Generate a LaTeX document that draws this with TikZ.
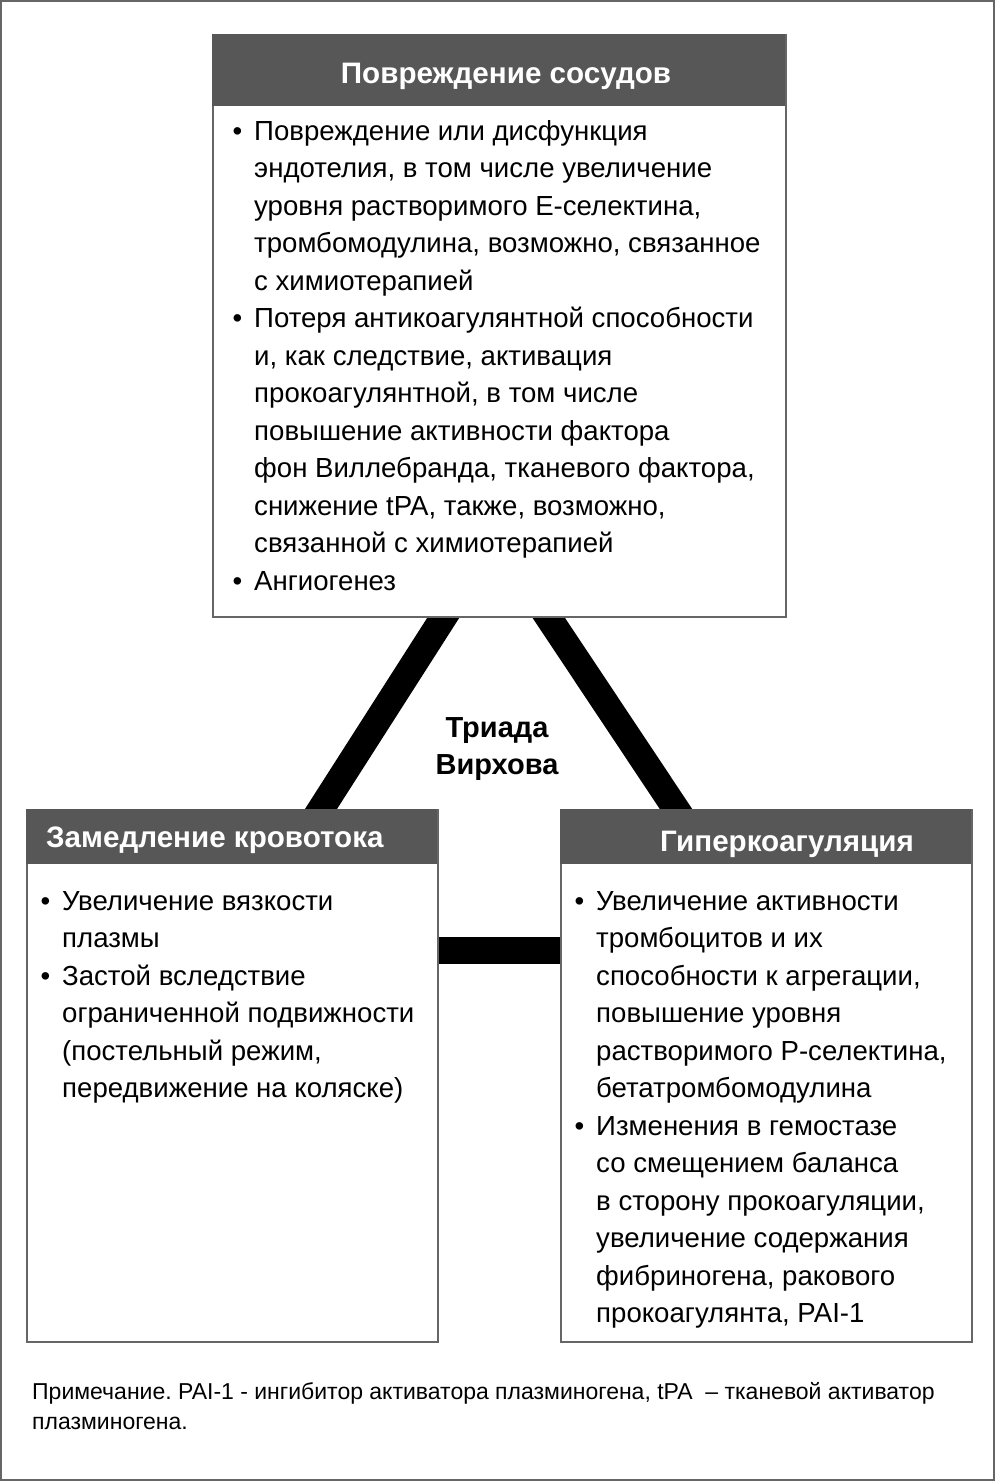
\documentclass[tikz,border=0pt]{standalone}
\usepackage{fontspec}
\setmainfont{Liberation Sans}
\usetikzlibrary{positioning, backgrounds}
\definecolor{headgray}{HTML}{575757}
\definecolor{linegray}{HTML}{666666}
\newcommand{\bul}{\llap{\textbullet\hspace{12pt}}}
\frenchspacing
\tikzset{x = 1pt, y = -1pt,
         box/.style = {draw = linegray, line width = 2.2pt, fill = white,
                       anchor = north west, inner sep = 0pt},
         head/.style = {fill = headgray, anchor = north west, inner sep = 0pt},
         headtext/.style = {text = white, font = \bfseries\fontsize{29.6pt}{32pt}\selectfont,
                            inner sep = 0pt},
         bodytext/.style = {align = left, anchor = north west, inner sep = 0pt,
                            font = \fontsize{27.6pt}{37.5pt}\selectfont},
         triad/.style = {line width = 27pt, black,
                         shorten <= -20pt, shorten >= -20pt}}

\begin{document}
\begin{tikzpicture}
  \useasboundingbox (0,0) rectangle (995,1481);
  \draw[linegray, line width = 2pt] (1,1) rectangle (994,1480);

  % three boxes
  \node[box, minimum width = 573pt, minimum height = 582pt] (vessel) at (212,34) {};
  \node[box, minimum width = 411pt, minimum height = 532pt] (stasis) at (26,809) {};
  \node[box, minimum width = 411pt, minimum height = 532pt] (hyper)  at (560,809) {};

  % connectors of the triad
  \begin{scope}[on background layer]
    \draw[triad] ([xshift = 231pt]vessel.south west)
              -- ([xshift = 295pt]stasis.north west);
    \draw[triad] ([xshift = 337pt]vessel.south west)
              -- ([xshift = 116pt]hyper.north west);
    \draw[triad] ([yshift = -141pt]stasis.north east)
              -- ([yshift = -141pt]hyper.north west);
  \end{scope}

  % headers
  \node[head, minimum width = 573pt, minimum height = 72pt] (vesselhead) at (vessel.north west) {};
  \node[head, minimum width = 411pt, minimum height = 55pt] (stasishead) at (stasis.north west) {};
  \node[head, minimum width = 411pt, minimum height = 55pt] (hyperhead)  at (hyper.north west) {};

  \node[headtext] (vesseltitle) at (506,76) {Повреждение сосудов};
  \node[headtext, anchor = west] (stasistitle) at (46,840) {Замедление кровотока};
  \node[headtext] (hypertitle) at (787,844) {Гиперкоагуляция};

  % texts of the boxes
  \node[bodytext] (vesseltext) at (254,120) {%
    \bul Повреждение или дисфункция\\
    эндотелия, в том числе увеличение\\
    уровня растворимого Е-селектина,\\
    тромбомодулина, возможно, связанное\\
    с химиотерапией\\
    \bul Потеря антикоагулянтной способности\\
    и, как следствие, активация\\
    прокоагулянтной, в том числе\\
    повышение активности фактора\\
    фон Виллебранда, тканевого фактора,\\
    снижение tPA, также, возможно,\\
    связанной с химиотерапией\\
    \bul Ангиогенез};
  \node[bodytext] (stasistext) at (62,891) {%
    \bul Увеличение вязкости\\
    плазмы\\
    \bul Застой вследствие\\
    ограниченной подвижности\\
    (постельный режим,\\
    передвижение на коляске)};
  \node[bodytext] (hypertext) at (596,891) {%
    \bul Увеличение активности\\
    тромбоцитов и их\\
    способности к агрегации,\\
    повышение уровня\\
    растворимого Р-селектина,\\
    бетатромбомодулина\\
    \bul Изменения в гемостазе\\
    со смещением баланса\\
    в сторону прокоагуляции,\\
    увеличение содержания\\
    фибриногена, ракового\\
    прокоагулянта, PAI-1};

  \node[font = \bfseries\fontsize{29pt}{37pt}\selectfont, align = center] (virchow) at (497,749)
       {Триада\\Вирхова};

  \node[bodytext, font = \fontsize{23pt}{30pt}\selectfont] (note) at (32,1382) {%
    Примечание. PAI-1 - ингибитор активатора плазминогена, tPA \ – тканевой активатор\\
    плазминогена.};
\end{tikzpicture}
\end{document}
